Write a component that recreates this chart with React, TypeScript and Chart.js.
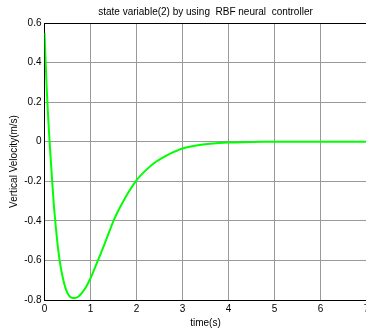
import React, { useEffect, useRef } from "react";
import { Chart, registerables } from "chart.js";

Chart.register(...registerables);

const timeValues = [0, 0.05, 0.1, 0.15, 0.2, 0.25, 0.3, 0.35, 0.4, 0.45, 0.5, 0.55, 0.6, 0.65, 0.7, 0.75, 0.8, 0.9, 1.0, 1.1, 1.2, 1.3, 1.4, 1.5, 1.6, 1.8, 2.0, 2.2, 2.4, 2.6, 2.8, 3.0, 3.3, 3.6, 4.0, 4.5, 5, 6, 7];
const velocityValues = [0.55, 0.26, 0.04, -0.14, -0.31, -0.44, -0.55, -0.63, -0.69, -0.735, -0.765, -0.782, -0.789, -0.79, -0.788, -0.78, -0.768, -0.735, -0.69, -0.635, -0.578, -0.52, -0.46, -0.4, -0.35, -0.265, -0.195, -0.145, -0.105, -0.077, -0.053, -0.034, -0.019, -0.01, -0.004, -0.001, 0, 0, 0];

const titleText = "state variable(2) by using  RBF neural  controller";
const xTitle = "time(s)";
const yTitle = "Vertical Velocity(m/s)";

const FONT = "'Liberation Sans', Arial, sans-serif";

export default function App() {
  const ref = useRef<HTMLCanvasElement | null>(null);
  useEffect(() => {
    if (!ref.current) return;
    const titlePlugin = {
      id: "topTitle",
      afterDraw(chart: any) {
        const { ctx, chartArea } = chart;
        ctx.save();
        ctx.font = `10px ${FONT}`;
        ctx.fillStyle = "#000";
        ctx.textAlign = "center";
        ctx.textBaseline = "middle";
        ctx.fillText(titleText, (chartArea.left + chartArea.right) / 2, 12);
        // top border
        ctx.strokeStyle = "#000";
        ctx.lineWidth = 1;
        ctx.beginPath();
        ctx.moveTo(chartArea.left, Math.round(chartArea.top) + 0.5);
        ctx.lineTo(chartArea.right, Math.round(chartArea.top) + 0.5);
        ctx.stroke();
        ctx.restore();
      },
    };
    const chart = new Chart(ref.current, {
      type: "line",
      data: {
        datasets: [
          {
            data: timeValues.map((t, i) => ({ x: t, y: velocityValues[i] })),
            borderColor: "#00ff00",
            borderWidth: 2,
            pointRadius: 0,
            tension: 0.3,
            fill: false,
          },
        ],
      },
      options: {
        animation: false,
        responsive: false,
        layout: { padding: { left: 0, top: 23, right: 13.5, bottom: 0 } },
        plugins: { legend: { display: false }, tooltip: { enabled: false }, title: { display: false } },
        scales: {
          x: {
            type: "linear",
            min: 0,
            max: 7,
            ticks: { stepSize: 1, color: "#000", font: { family: FONT, size: 10 }, padding: 3, maxRotation: 0 },
            grid: { color: "#9a9a9a", drawTicks: false },
            border: { color: "#000", width: 1 },
            title: { display: true, text: xTitle, color: "#000", font: { family: FONT, size: 10 }, padding: { top: 0, bottom: 3 } },
            afterFit: (s: any) => { s.height = 32; },
          },
          y: {
            type: "linear",
            min: -0.8,
            max: 0.6,
            ticks: {
              stepSize: 0.2,
              color: "#000",
              font: { family: FONT, size: 10 },
              padding: 3,
              callback: (v: any) => String(Number(Number(v).toFixed(1))),
            },
            grid: { color: "#9a9a9a", drawTicks: false },
            border: { color: "#000", width: 1 },
            title: { display: true, text: yTitle, color: "#000", font: { family: FONT, size: 10 }, padding: { top: 8, bottom: 0 } },
            afterFit: (s: any) => { s.width = 44.5; },
          },
        },
      },
      plugins: [titlePlugin],
    });
    return () => chart.destroy();
  }, []);
  return (
    <div style={{ position: "fixed", left: 0, top: 0, width: 366, height: 328, overflow: "hidden", background: "#fff" }}>
      <canvas ref={ref} width={380} height={332} style={{ width: 380, height: 332, display: "block" }} />
    </div>
  );
}
